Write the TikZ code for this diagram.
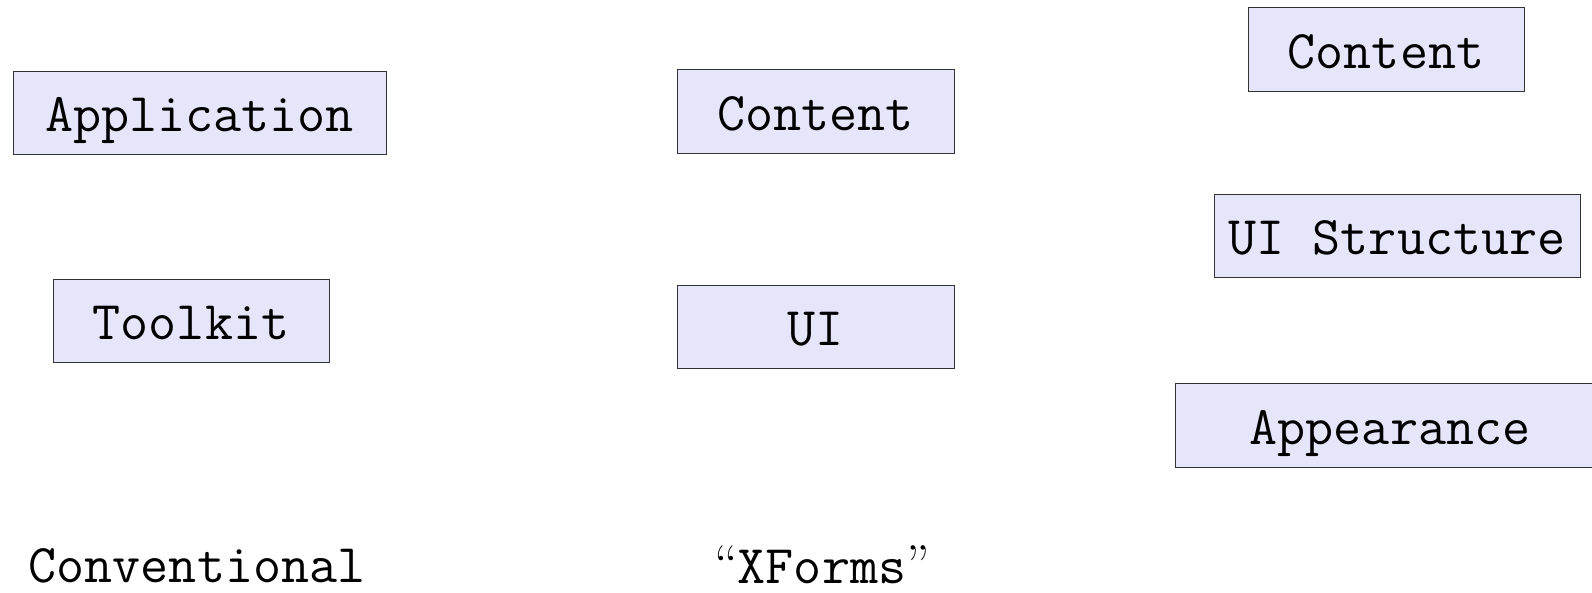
\documentclass[tikz,border=0pt]{standalone}
\usepackage{fontspec}
\begin{document}
\begin{tikzpicture}[x=1pt,y=-1pt,
  box/.style={draw=black!80, line width=1pt, fill={rgb,255:red,230;green,230;blue,250},
    inner sep=0pt, text height=38pt, text depth=0pt, minimum height=83pt,
    font=\ttfamily\fontsize{54.5}{60}\selectfont},
  lbl/.style={inner sep=0pt, anchor=base, font=\ttfamily\fontsize{54.5}{60}\selectfont}]
\useasboundingbox (0,0) rectangle (1592,592);
\begin{scope}
\clip (0,0) rectangle (1592,592);
\node[box, minimum width=373pt] (app) at (199.5,112.5) {Application};
\node[box, minimum width=276pt] (tk) at (191,320.5) {Toolkit};
\node[box, minimum width=277pt, minimum height=84pt] (c1) at (815.5,111) {Content};
\node[box, minimum width=277pt] (ui) at (815.5,326.5) {UI};
\node[box, minimum width=276pt, minimum height=84pt] (c2) at (1386,49) {Content};
\node[box, minimum width=366pt] (uis) at (1397,235.5) {UI Structure};
\node[box, minimum width=430pt, minimum height=84pt] (ap) at (1390,425) {Appearance};
\node[lbl] (conv) at (197,582) {Conventional};
\node[lbl] (xf) at (822,583) {{\rmfamily “}XForms{\rmfamily ”}};
\end{scope}
\end{tikzpicture}
\end{document}
